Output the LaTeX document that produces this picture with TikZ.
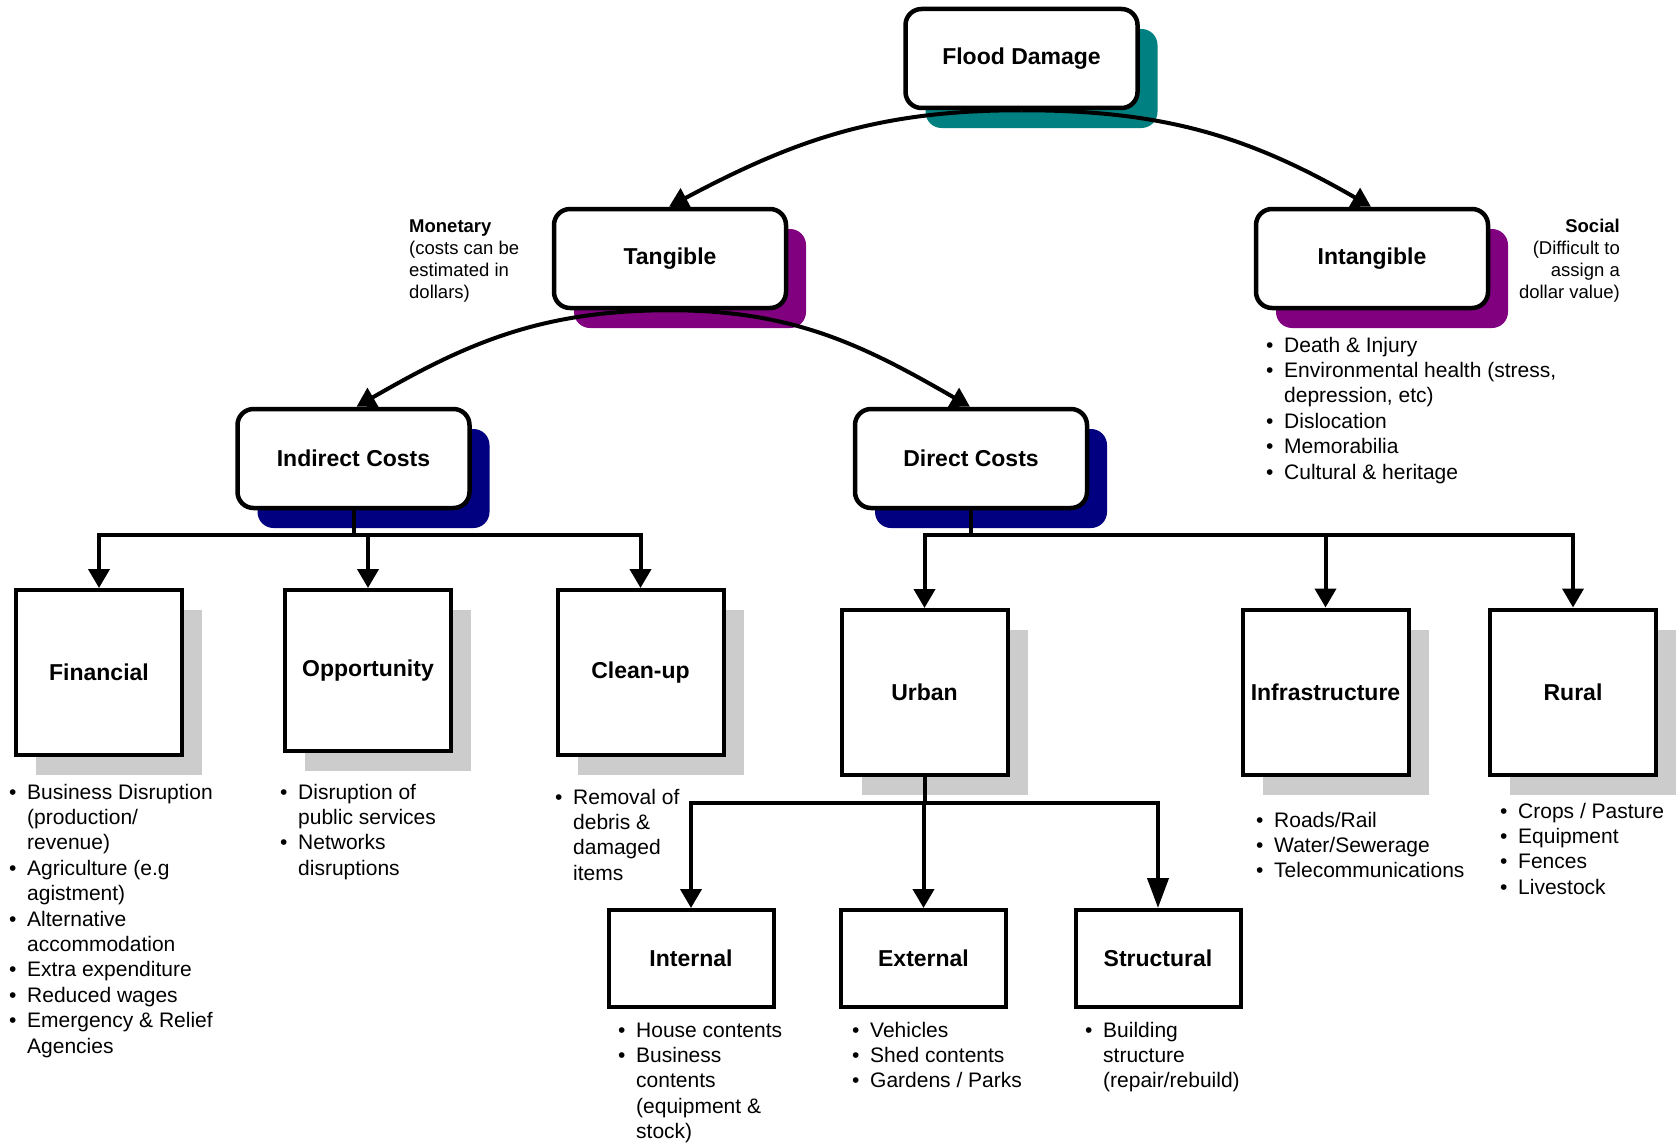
\documentclass[tikz,border=0pt]{standalone}
\usepackage{fontspec}
\setmainfont{Liberation Sans}
\usetikzlibrary{arrows.meta,shadows}
\definecolor{fdteal}{RGB}{0,128,128}
\definecolor{fdpurple}{RGB}{128,0,128}
\definecolor{fdnavy}{RGB}{0,0,128}
\definecolor{fdgray}{RGB}{204,204,204}
\newcommand{\bl}{\makebox[18pt][l]{\textbullet}}
\newcommand{\ct}{\hspace*{18pt}}
\tikzset{cat/.style={draw,line width=4.5pt,fill=white,rounded corners=16pt,minimum width=232pt,minimum height=99pt,inner sep=0pt,font=\fontsize{23}{27}\selectfont\bfseries,drop shadow={fill=#1,opacity=1,shadow xshift=20pt,shadow yshift=-20pt}},
sq/.style={draw,line width=4pt,fill=white,minimum width=166pt,minimum height=165pt,inner sep=0pt,font=\fontsize{23}{27}\selectfont\bfseries,drop shadow={fill=fdgray,opacity=1,shadow xshift=20pt,shadow yshift=-20pt}},
sub/.style={draw,line width=4pt,fill=white,minimum width=165pt,minimum height=97pt,inner sep=0pt,font=\fontsize{23}{27}\selectfont\bfseries},
lst/.style={anchor=base west,inner sep=0pt,font=\fontsize{21}{25.4}\selectfont},
note/.style={inner sep=0pt,font=\fontsize{18.5}{22}\selectfont},
link/.style={line width=4pt,-{Triangle[length=19pt,width=21pt]}},
bar/.style={line width=4pt}}

\begin{document}
\begin{tikzpicture}[x=1pt,y=1pt]
\useasboundingbox (0,0) rectangle (1677,-1145);
\node[cat=fdteal] (fd) at (1021.5,-58.5) {Flood Damage};
\node[cat=fdpurple] (tg) at (670,-258.5) {Tangible};
\node[cat=fdpurple] (ig) at (1372,-258.5) {Intangible};
\node[cat=fdnavy] (ic) at (353.5,-458.5) {Indirect Costs};
\node[cat=fdnavy] (dc) at (971,-458.5) {Direct Costs};
% indirect costs
\node[sq] (fin) at (99,-672.5) {Financial};
\node[sq,minimum height=161pt] (opp) at (368,-670.5) {Opportunity};
\node[sq] (cln) at (640.5,-672.5) {Clean-up};
% direct costs
\node[sq] (urb) at (924.5,-692.5) {Urban};
\node[sq] (inf) at (1325.5,-692) {Infrastructure};
\node[sq] (rur) at (1573,-692) {Rural};
% urban
\node[sub] (int) at (691,-958.5) {Internal};
\node[sub] (ext) at (923.5,-958.5) {External};
\node[sub] (str) at (1158,-958.5) {Structural};
% notes
\node[note,anchor=base west] (mon) at (409,-232) {\begin{tabular}[t]{@{}l@{}}\textbf{Monetary}\\(costs can be\\estimated in\\dollars)\end{tabular}};
\node[note,anchor=base east] (soc) at (1620,-232) {\begin{tabular}[t]{@{}r@{}}\textbf{Social}\\(Difficult to\\assign a\\dollar value)\end{tabular}};
% lists
\node[lst] (igl) at (1266,-352) {\begin{tabular}[t]{@{}l@{}}\bl Death \& Injury\\\bl Environmental health (stress,\\\ct depression, etc)\\\bl Dislocation\\\bl Memorabilia\\\bl Cultural \& heritage\end{tabular}};
\node[lst] (finl) at (9,-799) {\begin{tabular}[t]{@{}l@{}}\bl Business Disruption\\\ct (production/\\\ct revenue)\\\bl Agriculture (e.g\\\ct agistment)\\\bl Alternative\\\ct accommodation\\\bl Extra expenditure\\\bl Reduced wages\\\bl Emergency \& Relief\\\ct Agencies\end{tabular}};
\node[lst] (oppl) at (280,-799) {\begin{tabular}[t]{@{}l@{}}\bl Disruption of\\\ct public services\\\bl Networks\\\ct disruptions\end{tabular}};
\node[lst] (clnl) at (555,-804) {\begin{tabular}[t]{@{}l@{}}\bl Removal of\\\ct debris \&\\\ct damaged\\\ct items\end{tabular}};
\node[lst] (infl) at (1256,-827) {\begin{tabular}[t]{@{}l@{}}\bl Roads/Rail\\\bl Water/Sewerage\\\bl Telecommunications\end{tabular}};
\node[lst] (rurl) at (1500,-818) {\begin{tabular}[t]{@{}l@{}}\bl Crops / Pasture\\\bl Equipment\\\bl Fences\\\bl Livestock\end{tabular}};
\node[lst] (intl) at (618,-1037) {\begin{tabular}[t]{@{}l@{}}\bl House contents\\\bl Business\\\ct contents\\\ct (equipment \&\\\ct stock)\end{tabular}};
\node[lst] (extl) at (852,-1037) {\begin{tabular}[t]{@{}l@{}}\bl Vehicles\\\bl Shed contents\\\bl Gardens / Parks\end{tabular}};
\node[lst] (strl) at (1085,-1037) {\begin{tabular}[t]{@{}l@{}}\bl Building\\\ct structure\\\ct (repair/rebuild)\end{tabular}};
% arcs
\draw[link] (fd.south) to[out=180,in=28] ([xshift=-1pt]tg.north);
\draw[link] (fd.south) to[out=0,in=150] ([xshift=-1pt]ig.north);
\draw[link] (tg.south) to[out=180,in=30] ([xshift=3pt]ic.north);
\draw[link] (tg.south) to[out=0,in=150] ([xshift=-1pt]dc.north);
% trees
\coordinate (icb) at ([yshift=-25pt]ic.south);
\draw[bar] (ic.south) -- (icb);
\foreach \c in {fin,opp,cln} \draw[link] (icb) -| (\c.north);
\coordinate (dcb) at ([yshift=-25pt]dc.south);
\draw[bar] (dc.south) -- (dcb);
\foreach \c in {urb,inf,rur} \draw[link] (dcb) -| (\c.north);
\coordinate (ucb) at ([yshift=-26pt]urb.south);
\draw[bar] (urb.south) -- (ucb);
\draw[link] (ucb) -| (int.north);
\draw[link] (ucb) -| (ext.north);
\draw[link,-{Triangle[length=30pt,width=21pt]}] (ucb) -| (str.north);
\end{tikzpicture}
\end{document}
